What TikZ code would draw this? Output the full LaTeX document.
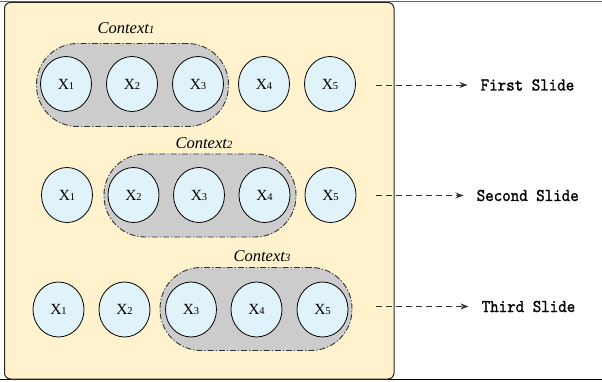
\documentclass[tikz,border=0pt]{standalone}
\usepackage{fontspec}
\setmainfont{Liberation Serif}
\newfontfamily\slidefont[FakeBold=1.2,FakeStretch=0.9]{lmmono10-regular.otf}
\usetikzlibrary{shapes.geometric,arrows.meta}
\definecolor{beige}{RGB}{255,242,204}
\definecolor{tokfill}{RGB}{225,243,250}
\definecolor{blobfill}{RGB}{204,204,204}
\definecolor{linegray}{RGB}{51,51,51}
\newcommand{\tok}[1]{{\fontsize{15.5}{15.5}\selectfont X}{\fontsize{10.5}{10.5}\selectfont #1}}
\newcommand{\ctx}[1]{{\fontsize{16.5}{16.5}\selectfont\itshape Context{\fontsize{11}{11}\selectfont #1}}}
\tikzset{
  tok/.style={ellipse, draw=black, line width=0.8pt, fill=tokfill, minimum width=51pt, minimum height=55pt, inner sep=0pt},
  blob/.style={rectangle, rounded corners=41pt, draw=linegray, fill=blobfill, line width=0.9pt,
    dash pattern=on 6pt off 2pt on 1.2pt off 2pt, minimum width=192pt, minimum height=83pt, inner sep=0pt},
  ctxlabel/.style={inner sep=0pt},
  slidelabel/.style={anchor=west, inner sep=0pt, font=\slidefont\fontsize{18}{18}\selectfont},
  slidearrow/.style={draw=linegray, line width=0.8pt, dash pattern=on 6pt off 4pt, -{Stealth[length=8pt,width=6pt]}, shorten >=13pt}
}
\begin{document}
\begin{tikzpicture}[x=1pt,y=-1pt]
\useasboundingbox (0,0) rectangle (602,382);
% outer frame lines
\draw[gray!80!black, line width=1pt] (0,1.5) -- (602,1.5);
\draw[black, line width=1pt] (0,379.5) -- (602,379.5);
% beige panel
\draw[fill=beige, draw=black!85, line width=1pt, rounded corners=6pt] (4.5,2.5) rectangle (394,379);

% row 1
\node[blob] (c1) at (132.5,85) {};
\node[ctxlabel] (l1) at (126,28) {\ctx{1}};
\node[tok] (r1x1) at (66,84) {\tok{1}};
\node[tok] (r1x2) at (132,84) {\tok{2}};
\node[tok] (r1x3) at (198,84) {\tok{3}};
\node[tok] (r1x4) at (264,84) {\tok{4}};
\node[tok] (r1x5) at (330,84) {\tok{5}};

% row 2
\node[blob] (c2) at (200,195.5) {};
\node[ctxlabel] (l2) at (204,143) {\ctx{2}};
\node[tok] (r2x1) at (67,195) {\tok{1}};
\node[tok] (r2x2) at (133.5,195) {\tok{2}};
\node[tok] (r2x3) at (199,195) {\tok{3}};
\node[tok] (r2x4) at (264.5,195) {\tok{4}};
\node[tok] (r2x5) at (330.5,195) {\tok{5}};

% row 3
\node[blob] (c3) at (256,309) {};
\node[ctxlabel] (l3) at (262,256) {\ctx{3}};
\node[tok] (r3x1) at (58.5,309.5) {\tok{1}};
\node[tok] (r3x2) at (124.5,309.5) {\tok{2}};
\node[tok] (r3x3) at (191,309.5) {\tok{3}};
\node[tok] (r3x4) at (256.5,309.5) {\tok{4}};
\node[tok] (r3x5) at (322.5,309.5) {\tok{5}};

% slide labels and arrows
\node[slidelabel] (s1) at (480.5,85) {First Slide};
\node[slidelabel] (s2) at (476.5,195.5) {Second Slide};
\node[slidelabel] (s3) at (481.5,306.5) {Third Slide};
\coordinate (a1) at (376,85);
\coordinate (a2) at (376,195.5);
\coordinate (a3) at (376,306.5);
\draw[slidearrow] (a1) -- (s1.west);
\draw[slidearrow] (a2) -- (s2.west);
\draw[slidearrow] (a3) -- (s3.west);
\end{tikzpicture}
\end{document}
